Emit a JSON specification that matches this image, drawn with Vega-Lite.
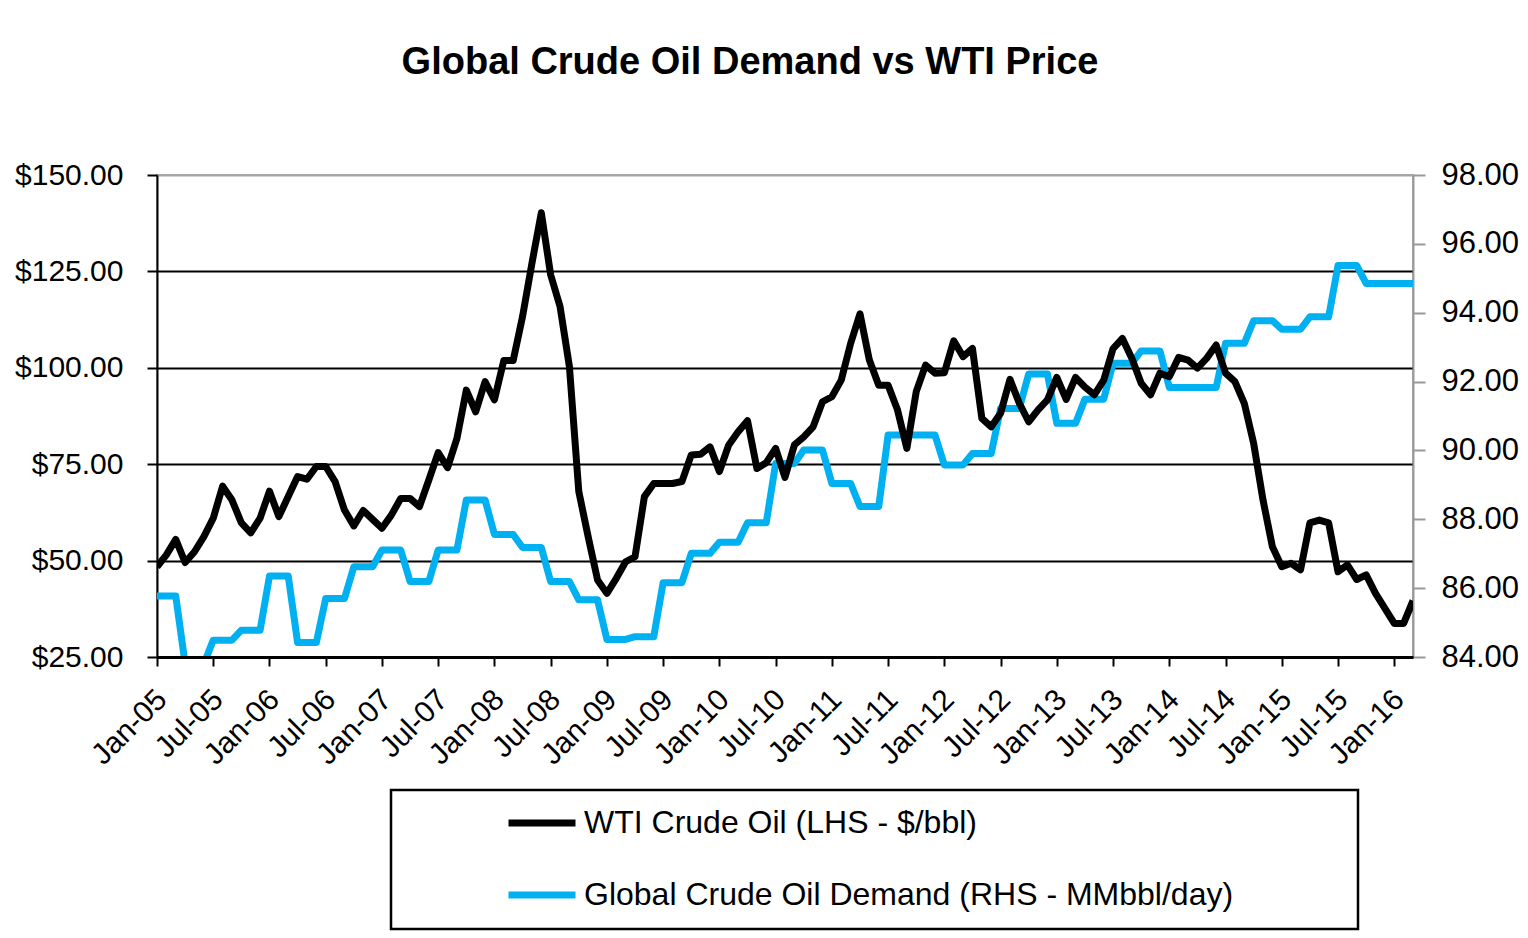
{
  "$schema": "https://vega.github.io/schema/vega-lite/v6.json",
  "autosize": "none",
  "width": 1256,
  "height": 482,
  "padding": {"left": 157, "top": 175, "right": 115, "bottom": 281},
  "background": "white",
  "title": {
    "text": "Global Crude Oil Demand vs WTI Price",
    "font": "Liberation Sans",
    "fontSize": 38,
    "fontWeight": "bold",
    "color": "black",
    "anchor": "middle",
    "frame": "group",
    "dx": -35,
    "baseline": "alphabetic",
    "offset": 47
  },
  "config": {
    "view": {"stroke": "#a6a6a6", "strokeWidth": 2},
    "font": "Liberation Sans",
    "legend": {"strokeWidth": 2.5}
  },
  "data": {
    "values": [
      {"month": "Jan-05", "wti": 48.4, "demand": 85.77},
      {"month": "Feb-05", "wti": 51.5, "demand": 85.77},
      {"month": "Mar-05", "wti": 55.5, "demand": 85.77},
      {"month": "Apr-05", "wti": 49.5, "demand": 83.8},
      {"month": "May-05", "wti": 52.3, "demand": 83.8},
      {"month": "Jun-05", "wti": 56.2, "demand": 83.8},
      {"month": "Jul-05", "wti": 61.0, "demand": 84.49},
      {"month": "Aug-05", "wti": 69.3, "demand": 84.49},
      {"month": "Sep-05", "wti": 65.7, "demand": 84.49},
      {"month": "Oct-05", "wti": 59.8, "demand": 84.78},
      {"month": "Nov-05", "wti": 57.2, "demand": 84.78},
      {"month": "Dec-05", "wti": 61.0, "demand": 84.78},
      {"month": "Jan-06", "wti": 68.0, "demand": 86.35},
      {"month": "Feb-06", "wti": 61.4, "demand": 86.35},
      {"month": "Mar-06", "wti": 66.6, "demand": 86.35},
      {"month": "Apr-06", "wti": 71.8, "demand": 84.42},
      {"month": "May-06", "wti": 71.1, "demand": 84.42},
      {"month": "Jun-06", "wti": 74.4, "demand": 84.42},
      {"month": "Jul-06", "wti": 74.4, "demand": 85.7},
      {"month": "Aug-06", "wti": 70.5, "demand": 85.7},
      {"month": "Sep-06", "wti": 63.1, "demand": 85.7},
      {"month": "Oct-06", "wti": 59.0, "demand": 86.62},
      {"month": "Nov-06", "wti": 63.0, "demand": 86.62},
      {"month": "Dec-06", "wti": 60.7, "demand": 86.62},
      {"month": "Jan-07", "wti": 58.4, "demand": 87.11},
      {"month": "Feb-07", "wti": 61.8, "demand": 87.11},
      {"month": "Mar-07", "wti": 66.1, "demand": 87.11},
      {"month": "Apr-07", "wti": 66.1, "demand": 86.19},
      {"month": "May-07", "wti": 64.0, "demand": 86.19},
      {"month": "Jun-07", "wti": 70.9, "demand": 86.19},
      {"month": "Jul-07", "wti": 78.0, "demand": 87.11},
      {"month": "Aug-07", "wti": 74.1, "demand": 87.11},
      {"month": "Sep-07", "wti": 81.7, "demand": 87.11},
      {"month": "Oct-07", "wti": 94.2, "demand": 88.56},
      {"month": "Nov-07", "wti": 88.6, "demand": 88.56},
      {"month": "Dec-07", "wti": 96.4, "demand": 88.56},
      {"month": "Jan-08", "wti": 91.7, "demand": 87.56},
      {"month": "Feb-08", "wti": 101.9, "demand": 87.56},
      {"month": "Mar-08", "wti": 101.9, "demand": 87.56},
      {"month": "Apr-08", "wti": 113.3, "demand": 87.18},
      {"month": "May-08", "wti": 127.1, "demand": 87.18},
      {"month": "Jun-08", "wti": 140.2, "demand": 87.18},
      {"month": "Jul-08", "wti": 124.1, "demand": 86.19},
      {"month": "Aug-08", "wti": 115.9, "demand": 86.19},
      {"month": "Sep-08", "wti": 100.3, "demand": 86.19},
      {"month": "Oct-08", "wti": 67.9, "demand": 85.66},
      {"month": "Nov-08", "wti": 56.2, "demand": 85.66},
      {"month": "Dec-08", "wti": 45.0, "demand": 85.66},
      {"month": "Jan-09", "wti": 41.5, "demand": 84.51},
      {"month": "Feb-09", "wti": 45.4, "demand": 84.51},
      {"month": "Mar-09", "wti": 49.7, "demand": 84.51},
      {"month": "Apr-09", "wti": 51.0, "demand": 84.59},
      {"month": "May-09", "wti": 66.6, "demand": 84.59},
      {"month": "Jun-09", "wti": 70.0, "demand": 84.59},
      {"month": "Jul-09", "wti": 70.0, "demand": 86.16},
      {"month": "Aug-09", "wti": 70.0, "demand": 86.16},
      {"month": "Sep-09", "wti": 70.5, "demand": 86.16},
      {"month": "Oct-09", "wti": 77.4, "demand": 87.01},
      {"month": "Nov-09", "wti": 77.6, "demand": 87.01},
      {"month": "Dec-09", "wti": 79.5, "demand": 87.01},
      {"month": "Jan-10", "wti": 73.1, "demand": 87.33},
      {"month": "Feb-10", "wti": 80.0, "demand": 87.33},
      {"month": "Mar-10", "wti": 83.4, "demand": 87.33},
      {"month": "Apr-10", "wti": 86.3, "demand": 87.9},
      {"month": "May-10", "wti": 73.9, "demand": 87.9},
      {"month": "Jun-10", "wti": 75.4, "demand": 87.9},
      {"month": "Jul-10", "wti": 79.1, "demand": 89.62},
      {"month": "Aug-10", "wti": 71.6, "demand": 89.62},
      {"month": "Sep-10", "wti": 80.0, "demand": 89.62},
      {"month": "Oct-10", "wti": 82.1, "demand": 90.01},
      {"month": "Nov-10", "wti": 84.7, "demand": 90.01},
      {"month": "Dec-10", "wti": 91.2, "demand": 90.01},
      {"month": "Jan-11", "wti": 92.5, "demand": 89.04},
      {"month": "Feb-11", "wti": 96.8, "demand": 89.04},
      {"month": "Mar-11", "wti": 106.3, "demand": 89.04},
      {"month": "Apr-11", "wti": 114.0, "demand": 88.37},
      {"month": "May-11", "wti": 102.0, "demand": 88.37},
      {"month": "Jun-11", "wti": 95.5, "demand": 88.37},
      {"month": "Jul-11", "wti": 95.5, "demand": 90.45},
      {"month": "Aug-11", "wti": 89.1, "demand": 90.45},
      {"month": "Sep-11", "wti": 79.1, "demand": 90.45},
      {"month": "Oct-11", "wti": 93.8, "demand": 90.45},
      {"month": "Nov-11", "wti": 100.7, "demand": 90.45},
      {"month": "Dec-11", "wti": 98.6, "demand": 90.45},
      {"month": "Jan-12", "wti": 98.7, "demand": 89.58},
      {"month": "Feb-12", "wti": 107.0, "demand": 89.58},
      {"month": "Mar-12", "wti": 102.9, "demand": 89.58},
      {"month": "Apr-12", "wti": 105.0, "demand": 89.91},
      {"month": "May-12", "wti": 86.9, "demand": 89.91},
      {"month": "Jun-12", "wti": 84.7, "demand": 89.91},
      {"month": "Jul-12", "wti": 88.2, "demand": 91.22},
      {"month": "Aug-12", "wti": 97.0, "demand": 91.22},
      {"month": "Sep-12", "wti": 90.8, "demand": 91.22},
      {"month": "Oct-12", "wti": 86.0, "demand": 92.22},
      {"month": "Nov-12", "wti": 89.1, "demand": 92.22},
      {"month": "Dec-12", "wti": 91.7, "demand": 92.22},
      {"month": "Jan-13", "wti": 97.5, "demand": 90.79},
      {"month": "Feb-13", "wti": 91.8, "demand": 90.79},
      {"month": "Mar-13", "wti": 97.5, "demand": 90.79},
      {"month": "Apr-13", "wti": 95.0, "demand": 91.49},
      {"month": "May-13", "wti": 93.0, "demand": 91.49},
      {"month": "Jun-13", "wti": 96.8, "demand": 91.49},
      {"month": "Jul-13", "wti": 105.0, "demand": 92.53},
      {"month": "Aug-13", "wti": 107.6, "demand": 92.53},
      {"month": "Sep-13", "wti": 102.5, "demand": 92.53},
      {"month": "Oct-13", "wti": 96.0, "demand": 92.89},
      {"month": "Nov-13", "wti": 93.0, "demand": 92.89},
      {"month": "Dec-13", "wti": 98.6, "demand": 92.89},
      {"month": "Jan-14", "wti": 97.7, "demand": 91.83},
      {"month": "Feb-14", "wti": 102.7, "demand": 91.83},
      {"month": "Mar-14", "wti": 102.0, "demand": 91.83},
      {"month": "Apr-14", "wti": 99.9, "demand": 91.83},
      {"month": "May-14", "wti": 102.5, "demand": 91.83},
      {"month": "Jun-14", "wti": 105.9, "demand": 91.83},
      {"month": "Jul-14", "wti": 98.6, "demand": 93.11},
      {"month": "Aug-14", "wti": 96.4, "demand": 93.11},
      {"month": "Sep-14", "wti": 90.8, "demand": 93.11},
      {"month": "Oct-14", "wti": 80.4, "demand": 93.77},
      {"month": "Nov-14", "wti": 65.7, "demand": 93.77},
      {"month": "Dec-14", "wti": 53.6, "demand": 93.77},
      {"month": "Jan-15", "wti": 48.4, "demand": 93.52},
      {"month": "Feb-15", "wti": 49.3, "demand": 93.52},
      {"month": "Mar-15", "wti": 47.6, "demand": 93.52},
      {"month": "Apr-15", "wti": 59.8, "demand": 93.88},
      {"month": "May-15", "wti": 60.5, "demand": 93.88},
      {"month": "Jun-15", "wti": 59.8, "demand": 93.88},
      {"month": "Jul-15", "wti": 47.1, "demand": 95.37},
      {"month": "Aug-15", "wti": 48.9, "demand": 95.37},
      {"month": "Sep-15", "wti": 45.1, "demand": 95.37},
      {"month": "Oct-15", "wti": 46.3, "demand": 94.85},
      {"month": "Nov-15", "wti": 41.5, "demand": 94.85},
      {"month": "Dec-15", "wti": 37.6, "demand": 94.85},
      {"month": "Jan-16", "wti": 33.7, "demand": 94.85},
      {"month": "Feb-16", "wti": 33.7, "demand": 94.85},
      {"month": "Mar-16", "wti": 39.6, "demand": 94.85}
    ]
  },
  "encoding": {
    "x": {
      "field": "month",
      "type": "ordinal",
      "sort": null,
      "scale": {"type": "point", "padding": 0},
      "axis": {
        "title": null,
        "values": ["Jan-05","Jul-05","Jan-06","Jul-06","Jan-07","Jul-07","Jan-08","Jul-08","Jan-09","Jul-09","Jan-10","Jul-10","Jan-11","Jul-11","Jan-12","Jul-12","Jan-13","Jul-13","Jan-14","Jul-14","Jan-15","Jul-15","Jan-16"],
        "labelAngle": -45,
        "labelFontSize": 30,
        "labelColor": "black",
        "labelPadding": 18,
        "labelOffset": -6,
        "domainColor": "black",
        "domainWidth": 3,
        "tickColor": "black",
        "tickWidth": 2,
        "tickSize": 9,
        "grid": false,
        "zindex": 2
      }
    }
  },
  "layer": [
    {
      "mark": {"type": "line", "strokeWidth": 7, "clip": true, "strokeJoin": "round"},
      "encoding": {
        "y": {
          "field": "demand",
          "type": "quantitative",
          "scale": {"domain": [84, 98], "nice": false, "zero": false},
          "axis": {
            "orient": "right",
            "title": null,
            "values": [84, 86, 88, 90, 92, 94, 96, 98],
            "format": ".2f",
            "labelFontSize": 31,
            "labelColor": "black",
            "labelPadding": 16,
            "domainColor": "#999999",
            "domainWidth": 2,
            "tickColor": "#999999",
            "tickWidth": 2,
            "tickSize": 12,
            "grid": false
          }
        },
        "color": {
          "datum": "Global Crude Oil Demand (RHS - MMbbl/day)",
          "type": "nominal",
          "scale": {
            "domain": ["WTI Crude Oil (LHS - $/bbl)", "Global Crude Oil Demand (RHS - MMbbl/day)"],
            "range": ["black", "#00B0F0"]
          },
          "legend": {
            "orient": "none",
            "legendX": 234,
            "legendY": 615,
            "direction": "vertical",
            "title": " ",
            "titleOrient": "left",
            "titleFontSize": 30,
            "titlePadding": 96,
            "padding": 18,
            "strokeColor": "black",
            "fillColor": "white",
            "symbolType": "stroke",
            "symbolSize": 4489,
            "symbolStrokeWidth": 7,
            "clipHeight": 30,
            "labelFontSize": 32,
            "labelColor": "black",
            "labelOffset": 5,
            "labelLimit": 1000,
            "rowPadding": 40,
            "labelExpr": "datum.label + '\u00a0\u00a0\u00a0\u00a0\u00a0\u00a0\u00a0\u00a0\u00a0\u00a0\u00a0\u00a0\u200b'"
          }
        }
      }
    },
    {
      "mark": {"type": "line", "strokeWidth": 7, "clip": true, "strokeJoin": "round"},
      "encoding": {
        "y": {
          "field": "wti",
          "type": "quantitative",
          "scale": {"domain": [25, 150], "nice": false, "zero": false},
          "axis": {
            "orient": "left",
            "title": null,
            "values": [25, 50, 75, 100, 125, 150],
            "format": "$.2f",
            "labelFontSize": 30,
            "labelColor": "black",
            "labelPadding": 24,
            "domainColor": "black",
            "domainWidth": 2,
            "tickColor": "black",
            "tickWidth": 2,
            "tickSize": 10,
            "grid": true,
            "gridColor": {"condition": {"test": "datum.value == 150", "value": "#a6a6a6"}, "value": "black"},
            "gridWidth": 2
          }
        },
        "color": {"datum": "WTI Crude Oil (LHS - $/bbl)", "type": "nominal"}
      }
    }
  ],
  "resolve": {"scale": {"y": "independent"}}
}
